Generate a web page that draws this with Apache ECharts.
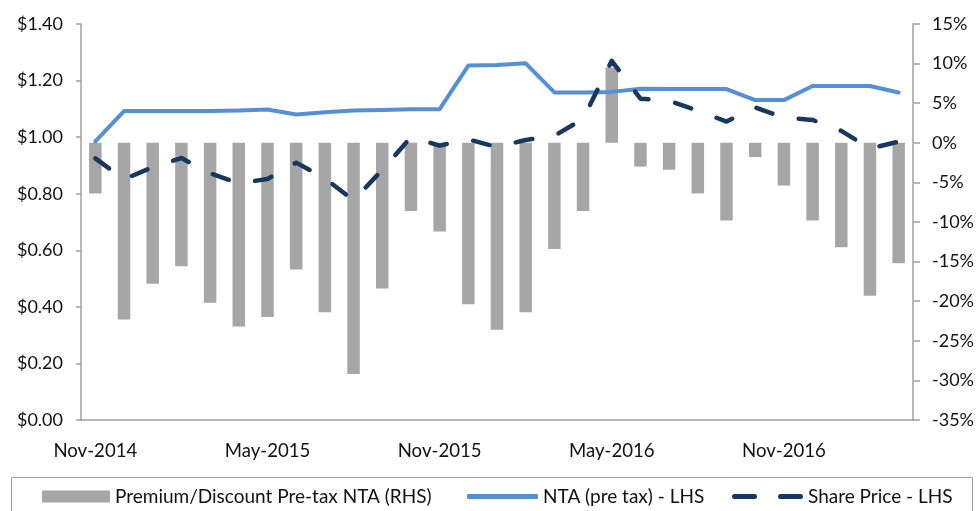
<!DOCTYPE html>
<html>
<head>
<meta charset="utf-8">
<script src="https://cdn.jsdelivr.net/npm/echarts@6/dist/echarts.min.js"></script>
<style>
html,body{margin:0;padding:0;background:#fff;}
#chart{width:980px;height:511px;}
</style>
</head>
<body>
<div id="chart"></div>
<script>
var categories = ['Nov-2014','Dec-2014','Jan-2015','Feb-2015','Mar-2015','Apr-2015','May-2015','Jun-2015','Jul-2015','Aug-2015','Sep-2015','Oct-2015','Nov-2015','Dec-2015','Jan-2016','Feb-2016','Mar-2016','Apr-2016','May-2016','Jun-2016','Jul-2016','Aug-2016','Sep-2016','Oct-2016','Nov-2016','Dec-2016','Jan-2017','Feb-2017','Mar-2017'];
var premiumDiscount = [-6.4,-22.3,-17.8,-15.6,-20.2,-23.2,-22.0,-16.0,-21.4,-29.2,-18.4,-8.6,-11.2,-20.4,-23.6,-21.4,-13.4,-8.6,9.5,-3.0,-3.4,-6.4,-9.8,-1.8,-5.4,-9.8,-13.2,-19.3,-15.2];
var ntaPreTax = [0.985,1.092,1.092,1.092,1.092,1.094,1.098,1.080,1.088,1.094,1.096,1.099,1.099,1.253,1.255,1.261,1.158,1.158,1.160,1.171,1.170,1.170,1.170,1.131,1.131,1.181,1.181,1.181,1.158];
var sharePrice = [0.925,0.851,0.894,0.926,0.872,0.837,0.852,0.910,0.854,0.777,0.884,1.000,0.970,0.992,0.965,0.990,1.005,1.064,1.270,1.136,1.128,1.094,1.055,1.105,1.069,1.061,1.022,0.960,0.984];
var seriesNames = ['Premium/Discount Pre-tax NTA (RHS)','NTA (pre tax) - LHS','Share Price - LHS'];

var FONT = 'Lato';
var TXT = '#111';
var AX = '#a0a0a0';

var dashIcon = 'path://M2.5,0 H22.5 A2.5,2.5 0 0 1 22.5,5 H2.5 A2.5,2.5 0 0 1 2.5,0 Z M48.5,0 H68.5 A2.5,2.5 0 0 1 68.5,5 H48.5 A2.5,2.5 0 0 1 48.5,0 Z';

var chart = echarts.init(document.getElementById('chart'), null, {renderer:'canvas'});
var legendText = {fontFamily: FONT, fontSize: 19, color: TXT};
chart.setOption({
  animation: false,
  backgroundColor: '#ffffff',
  textStyle: {fontFamily: FONT},
  grid: {left: 81, right: 67, top: 24, bottom: 91, containLabel: false},
  graphic: [{
    type: 'rect', silent: true, z: 0,
    shape: {x: 11.5, y: 477.5, width: 961, height: 60},
    style: {fill: 'none', stroke: AX, lineWidth: 1}
  }],
  legend: [
    {data: [{name: seriesNames[0], icon: 'rect'}], left: 42, top: 487, padding: 0, itemWidth: 68, itemHeight: 12, textStyle: legendText, selectedMode: false},
    {data: [{name: seriesNames[1], icon: 'roundRect'}], left: 467, top: 487, padding: 0, itemWidth: 71, itemHeight: 5, textStyle: legendText, selectedMode: false,
      itemStyle: {color: '#5590d6', borderWidth: 0}},
    {data: [{name: seriesNames[2], icon: dashIcon}], left: 732, top: 487, padding: 0, itemWidth: 71, itemHeight: 5, textStyle: legendText, selectedMode: false,
      itemStyle: {color: '#17375e', borderWidth: 0}}
  ],
  xAxis: {
    type: 'category',
    data: categories,
    boundaryGap: true,
    axisLine: {lineStyle: {color: AX, width: 1.5}},
    axisTick: {interval: 5, length: 6, lineStyle: {color: AX, width: 1.5}},
    axisLabel: {interval: 5, margin: 21, fontFamily: FONT, fontSize: 18.6, color: TXT},
    splitLine: {show: false}
  },
  yAxis: [
    {
      type: 'value', min: 0, max: 1.4, interval: 0.2, position: 'left',
      axisLine: {show: true, lineStyle: {color: AX, width: 1.5}},
      axisTick: {show: true, length: 5, lineStyle: {color: AX, width: 1.5}},
      axisLabel: {margin: 18, fontFamily: FONT, fontSize: 18, color: TXT,
        formatter: function (v) { return '$' + v.toFixed(2); }},
      splitLine: {show: false}
    },
    {
      type: 'value', min: -35, max: 15, interval: 5, position: 'right',
      axisLine: {show: true, lineStyle: {color: AX, width: 1.5}},
      axisTick: {show: true, length: 7, lineStyle: {color: AX, width: 1.5}},
      axisLabel: {margin: 19, fontFamily: FONT, fontSize: 18, color: TXT,
        formatter: function (v) { return v + '%'; }},
      splitLine: {show: false}
    }
  ],
  series: [
    {
      name: seriesNames[0], type: 'bar', yAxisIndex: 1, data: premiumDiscount,
      barWidth: 12.5, itemStyle: {color: '#a6a6a6'}, z: 1
    },
    {
      name: seriesNames[1], type: 'line', yAxisIndex: 0, data: ntaPreTax,
      symbol: 'none', showSymbol: false,
      lineStyle: {color: '#5590d6', width: 4, cap: 'round', join: 'round'},
      itemStyle: {color: '#5590d6'}, z: 3
    },
    {
      name: seriesNames[2], type: 'line', yAxisIndex: 0, data: sharePrice,
      symbol: 'none', showSymbol: false,
      lineStyle: {color: '#17375e', width: 4.5, type: [17, 27], cap: 'round', join: 'round'},
      itemStyle: {color: '#17375e'}, z: 4
    }
  ]
});
</script>
</body>
</html>
